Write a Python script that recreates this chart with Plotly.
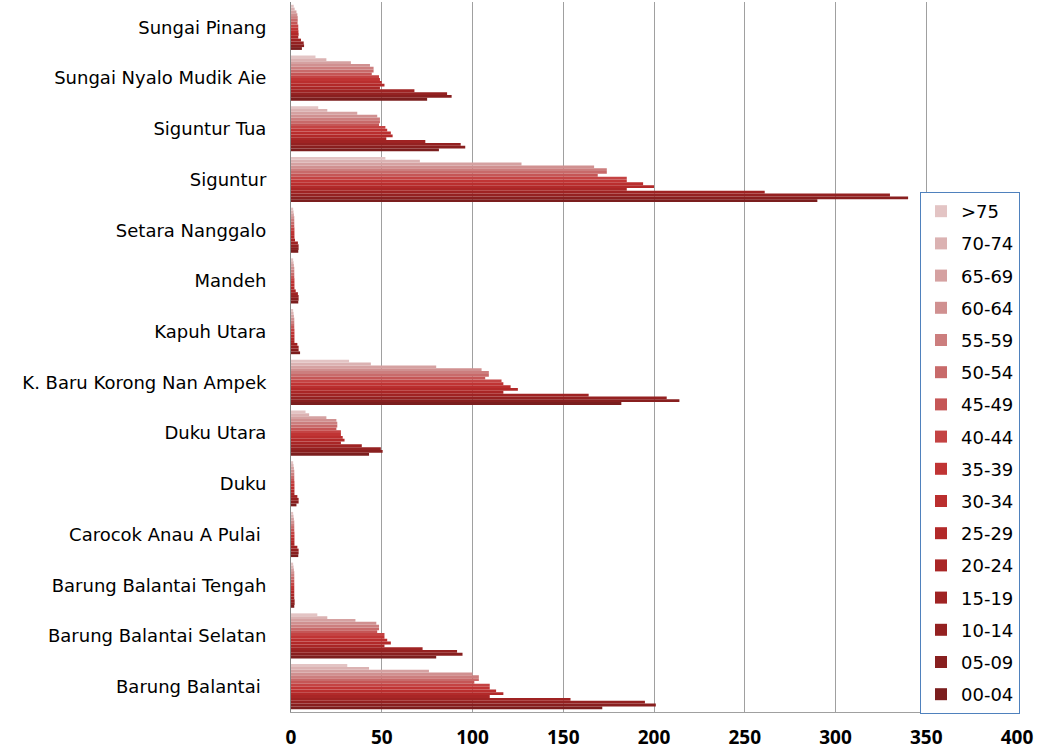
import plotly.graph_objects as go

# Age groups, youngest first (drawn at the bottom of each village group)
age_groups = ["00-04", "05-09", "10-14", "15-19", "20-24", "25-29", "30-34", "35-39",
              "40-44", "45-49", "50-54", "55-59", "60-64", "65-69", "70-74", ">75"]

# Villages, listed from the bottom of the chart to the top
villages = ["Barung Balantai\u00a0", "Barung Balantai Selatan", "Barung Balantai Tengah",
            "Carocok Anau A Pulai\u00a0", "Duku", "Duku Utara", "K. Baru Korong Nan Ampek",
            "Kapuh Utara", "Mandeh", "Setara Nanggalo", "Siguntur", "Siguntur Tua",
            "Sungai Nyalo Mudik Aie", "Sungai Pinang"]

# Population per age group (00-04 ... >75) for each village
barung_balantai = [171.5, 201, 195, 154, 109.5, 117, 113, 109.5, 109.5, 101, 103.5, 103.5, 100, 76, 43, 31]
barung_balantai_selatan = [80, 94.5, 91.5, 72.5, 51.5, 55, 53, 51.5, 51.5, 47.5, 48.5, 48.5, 47, 35.5, 20, 14.5]
barung_balantai_tengah = [1.8, 2, 2, 1.8, 1.8, 1.8, 1.8, 1.8, 1.8, 1.8, 1.8, 1.8, 1.8, 1.6, 1.4, 1.2]
carocok_anau_a_pulai = [4, 4.2, 4.2, 3.5, 1.9, 1.9, 1.9, 1.9, 1.9, 1.8, 1.8, 1.8, 1.8, 1.6, 1.4, 1.2]
duku = [3, 4.2, 4.2, 3.5, 1.9, 1.9, 1.9, 1.9, 1.9, 1.8, 1.8, 1.8, 1.8, 1.6, 1.4, 1.2]
duku_utara = [43, 50.5, 49.5, 39, 27.5, 29.5, 28.5, 27.5, 27.5, 25, 25.5, 25.5, 25, 19.5, 10, 8]
k_baru = [182, 214, 207, 164, 117, 125, 121, 117, 116, 107, 109, 109, 105, 80, 44, 32]
kapuh_utara = [5, 4.2, 4.2, 3.5, 1.9, 1.9, 1.9, 1.9, 1.9, 1.8, 1.8, 1.8, 1.8, 1.6, 1.4, 1.2]
mandeh = [4, 4.2, 4.2, 3.8, 2.6, 1.9, 1.9, 1.9, 1.9, 1.8, 1.8, 1.8, 1.8, 1.6, 1.4, 1.2]
setara_nanggalo = [4, 4.2, 4.2, 3.8, 2.2, 1.9, 1.9, 1.9, 1.9, 1.8, 1.8, 1.8, 1.8, 1.6, 1.4, 1.2]
siguntur = [290, 340, 330, 261, 185, 200, 194, 185, 185, 169, 174, 174, 167, 127, 71, 52]
siguntur_tua = [81.5, 96, 93.5, 74, 52.5, 56, 55, 53, 52, 48.5, 49, 49, 47.5, 36.5, 20, 15]
sungai_nyalo_mudik_aie = [75, 88.5, 86, 68, 49, 51.5, 50, 49, 48.5, 44.5, 45.5, 45.5, 43.5, 33, 19.5, 13.5]
sungai_pinang = [6, 7.2, 7, 5.5, 4, 4.2, 4.1, 4, 4, 3.6, 3.7, 3.7, 3.5, 3, 2, 1.5]

village_values = [barung_balantai, barung_balantai_selatan, barung_balantai_tengah,
                  carocok_anau_a_pulai, duku, duku_utara, k_baru, kapuh_utara, mandeh,
                  setara_nanggalo, siguntur, siguntur_tua, sungai_nyalo_mudik_aie, sungai_pinang]

x_ticks = [0, 50, 100, 150, 200, 250, 300, 350, 400]

# Dark red for the youngest group fading to pale rose for the oldest
colors = ["#7b1e1e", "#881f1f", "#942121", "#9f2323", "#a92626", "#b22929", "#ba2e2e", "#c03434",
          "#c44343", "#c55656", "#c86a6a", "#cc7e7e", "#d09090", "#d5a1a1", "#dbb2b2", "#e3c4c4"]

fig = go.Figure()
n = len(age_groups)
for i, grp in enumerate(age_groups):
    fig.add_trace(go.Bar(
        y=villages,
        x=[vals[i] for vals in village_values],
        name=grp,
        orientation="h",
        legendgroup=grp,
        legendrank=n - i,
        marker=dict(color=colors[i], line=dict(width=0)),
    ))

label_font = "DejaVu Sans, sans-serif"
tick_font = "Open Sans, DejaVu Sans, sans-serif"

fig.update_layout(
    width=1038,
    height=751,
    margin=dict(l=291, r=21, t=2, b=39),
    paper_bgcolor="white",
    plot_bgcolor="white",
    barmode="group",
    bargap=0.11,
    bargroupgap=0,
    font=dict(family=label_font, color="black"),
    xaxis=dict(
        range=[0, 400],
        tickvals=x_ticks,
        ticktext=[f"<b>{v}</b>" for v in x_ticks],
        tickfont=dict(size=19, family=tick_font, color="black"),
        showgrid=True,
        gridcolor="#a0a0a0",
        gridwidth=1,
        zeroline=False,
        showline=True,
        linecolor="#a0a0a0",
        linewidth=1,
        ticks="",
        ticklabelstandoff=8,
        automargin=False,
    ),
    yaxis=dict(
        type="category",
        categoryorder="array",
        categoryarray=villages,
        tickfont=dict(size=18, family=label_font, color="black"),
        showgrid=False,
        zeroline=False,
        showline=True,
        linecolor="#868686",
        linewidth=1,
        ticks="",
        ticklabelstandoff=20,
        automargin=False,
    ),
    legend=dict(
        x=0.8664,
        y=0.7324,
        xanchor="left",
        yanchor="top",
        traceorder="grouped",
        tracegroupgap=5.8,
        bgcolor="white",
        bordercolor="#4f81bd",
        borderwidth=1,
        font=dict(size=18, family=label_font, color="black"),
    ),
)

fig.write_html("out.html")
